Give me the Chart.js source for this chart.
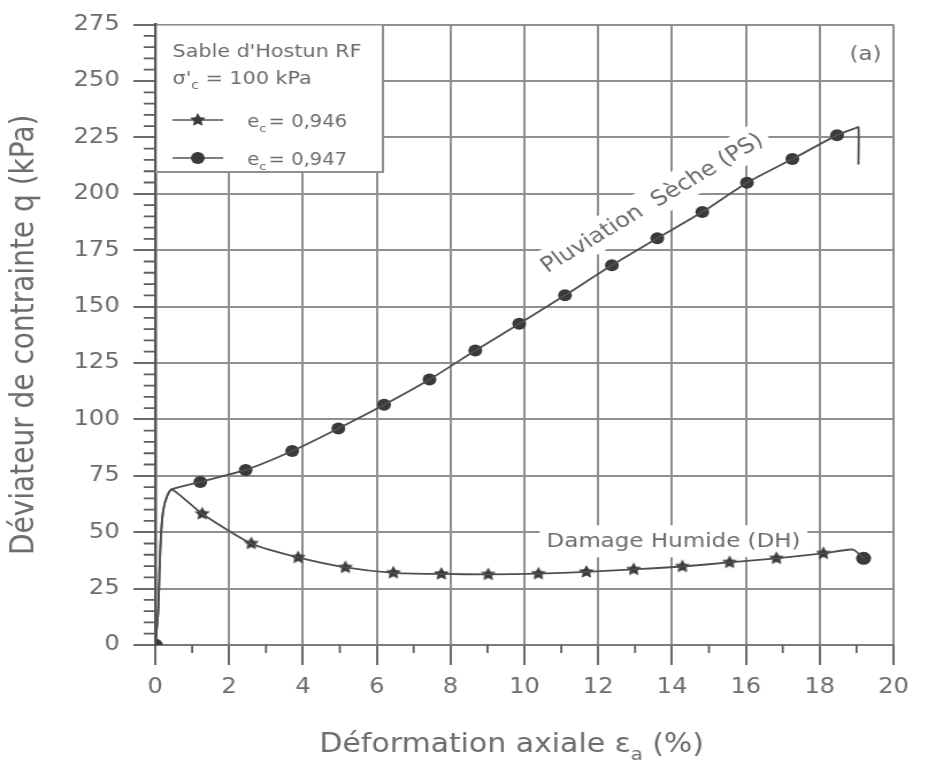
<!DOCTYPE html>
<html>
<head>
<meta charset="utf-8">
<script src="https://cdn.jsdelivr.net/npm/chart.js@4.4.1/dist/chart.umd.min.js"></script>
<style>
  html, body { margin: 0; padding: 0; background: #fff; }
  #chart { display: block; }
</style>
</head>
<body>
<!-- drawn narrow, shown wide: the figure has a stretched, wide lettering -->
<canvas id="chart" width="807" height="764" style="width: 928px; height: 764px;"></canvas>
<script>
// initial loading, common to both specimens
const riseStrain = [0, 0.08, 0.12, 0.16, 0.22, 0.32, 0.45];
const riseQ = [0, 15, 35, 50, 60, 66, 69];

// Pluviation Sèche (PS), e_c = 0,947
const psStrain = [1.22, 2.45, 3.71, 4.96, 6.2, 7.43, 8.67, 9.86, 11.1, 12.37, 13.6, 14.82, 16.03, 17.26, 18.47];
const psQ = [72.3, 77.6, 86, 96, 106.5, 117.7, 130.5, 142.4, 155, 168.3, 180.3, 191.9, 204.9, 215.4, 226];
const psEndStrain = [18.95, 19.05, 19.05];
const psEndQ = [229, 229.5, 213];

// Damage Humide (DH), e_c = 0,946
const dhStrain = [1.27, 2.6, 3.87, 5.15, 6.45, 7.75, 9.02, 10.38, 11.68, 12.96, 14.28, 15.56, 16.83, 18.1];
const dhQ = [58.2, 45, 38.8, 34.4, 32, 31.5, 31.3, 31.6, 32.4, 33.5, 34.8, 36.6, 38.4, 40.6];
const dhEndStrain = [18.9, 19.19];
const dhEndQ = [42.3, 38.4];

const sandName = "Sable d'Hostun RF";
const confining = "100 kPa";
const voidRatios = ["0,946", "0,947"];      // DH (stars), PS (dots)
const curveNames = ["Pluviation  Sèche (PS)", "Damage Humide (DH)"];
const panelTag = "(a)";
const xTitle = ["Déformation axiale ε", "a", " (%)"];
const yTitle = "Déviateur de contrainte q (kPa)";

const FONT = "'DejaVu Sans', sans-serif";
const INK = "#3a3a3a";
const TEXT = "#6c6c6c";
const GRID = "#8f8f8f";

function toPoints(xs, ys) {
  return xs.map((x, i) => ({ x: x, y: ys[i] }));
}

function starSprite(r) {
  const c = document.createElement("canvas");
  const s = Math.ceil(r * 2 + 2);
  c.width = s; c.height = s;
  const g = c.getContext("2d");
  g.translate(s / 2, s / 2);
  g.beginPath();
  for (let i = 0; i < 10; i++) {
    const rad = i % 2 ? r * 0.5 : r;
    const a = -Math.PI / 2 + i * Math.PI / 5;
    g.lineTo(rad * Math.cos(a), rad * Math.sin(a));
  }
  g.closePath();
  g.fillStyle = INK;
  g.fill();
  return c;
}
const star = starSprite(7);

const rise = toPoints(riseStrain, riseQ);
const psMarks = toPoints(psStrain, psQ);
const dhMarks = toPoints(dhStrain, dhQ);
const psEnd = toPoints(psEndStrain, psEndQ);
const dhEnd = toPoints(dhEndStrain, dhEndQ);

const curveStyle = {
  showLine: true,
  borderColor: "#4f4f4f",
  borderWidth: 1.8,
  tension: 0.2,
  pointRadius: 0
};

// text with a subscript, returns the x where it stopped
function subText(ctx, x, y, main, sub, size) {
  ctx.font = size + "px " + FONT;
  ctx.fillText(main, x, y);
  x += ctx.measureText(main).width;
  ctx.font = Math.round(size * 0.65) + "px " + FONT;
  ctx.fillText(sub, x, y + size * 0.3);
  return x + ctx.measureText(sub).width;
}

const paperDecor = {
  id: "paperDecor",
  beforeDatasetsDraw(chart) {
    const { ctx, chartArea: area, scales: { x, y } } = chart;
    ctx.save();

    // legend frame in the upper left corner
    const boxR = 333, boxB = 172;
    ctx.fillStyle = "#fff";
    ctx.fillRect(area.left + 1.5, area.top + 1, boxR - area.left - 1.5, boxB - area.top - 1);
    ctx.strokeStyle = GRID;
    ctx.lineWidth = 2;
    ctx.beginPath();
    ctx.moveTo(area.left, boxB);
    ctx.lineTo(boxR, boxB);
    ctx.lineTo(boxR, area.top);
    ctx.stroke();

    ctx.fillStyle = TEXT;
    ctx.textBaseline = "alphabetic";
    ctx.textAlign = "left";
    ctx.font = "18px " + FONT;
    ctx.fillText(sandName, 150, 57);
    let cx = subText(ctx, 150, 84, "σ'", "c", 18);
    ctx.font = "18px " + FONT;
    ctx.fillText(" = " + confining, cx, 84);

    const rows = [
      { y: 120, mark: "star", label: voidRatios[0] },
      { y: 158, mark: "dot", label: voidRatios[1] }
    ];
    rows.forEach(r => {
      ctx.strokeStyle = "#555";
      ctx.lineWidth = 1.6;
      ctx.beginPath();
      ctx.moveTo(150, r.y);
      ctx.lineTo(194, r.y);
      ctx.stroke();
      if (r.mark === "star") {
        ctx.drawImage(star, 172 - star.width / 2, r.y - star.height / 2);
      } else {
        ctx.fillStyle = INK;
        ctx.beginPath();
        ctx.arc(172, r.y, 6, 0, Math.PI * 2);
        ctx.fill();
      }
      ctx.fillStyle = TEXT;
      let tx = subText(ctx, 215, r.y + 7, "e", "c", 17);
      ctx.font = "17px " + FONT;
      ctx.fillText("= " + r.label, tx + 2, r.y + 7);
    });

    // curve names on white patches, PS one follows the slope of its curve
    const a = psMarks[8], b = psMarks[13];
    const ang = Math.atan2(y.getPixelForValue(b.y) - y.getPixelForValue(a.y),
                           x.getPixelForValue(b.x) - x.getPixelForValue(a.x));
    const labels = [
      { text: curveNames[0], at: [13.45, 196], angle: ang, size: 21 },
      { text: curveNames[1], at: [14.04, 46], angle: 0, size: 20 }
    ];
    ctx.textAlign = "center";
    ctx.textBaseline = "middle";
    labels.forEach(l => {
      ctx.font = l.size + "px " + FONT;
      const w = ctx.measureText(l.text).width;
      ctx.save();
      ctx.translate(x.getPixelForValue(l.at[0]), y.getPixelForValue(l.at[1]));
      ctx.rotate(l.angle);
      ctx.fillStyle = "#fff";
      ctx.fillRect(-w / 2 - 6, -16, w + 12, 32);
      ctx.fillStyle = TEXT;
      ctx.fillText(l.text, 0, 1);
      ctx.restore();
    });

    ctx.font = "20px " + FONT;
    ctx.fillText(panelTag, x.getPixelForValue(19.24), y.getPixelForValue(261.5));
    ctx.restore();
  },
  afterDraw(chart) {
    const { ctx, chartArea: area, scales: { x, y } } = chart;
    ctx.save();
    ctx.strokeStyle = "#5e5e5e";
    ctx.lineWidth = 1.8;
    ctx.beginPath();
    for (let v = 5; v < 275; v += 5) {
      if (v % 25 === 0) continue;
      const py = y.getPixelForValue(v);
      ctx.moveTo(area.left - 10, py);
      ctx.lineTo(area.left, py);
    }
    for (let v = 1; v < 20; v += 2) {
      const px = x.getPixelForValue(v);
      ctx.moveTo(px, area.bottom);
      ctx.lineTo(px, area.bottom + 8);
    }
    ctx.stroke();

    // x title with its subscript
    ctx.fillStyle = TEXT;
    ctx.textBaseline = "alphabetic";
    ctx.textAlign = "left";
    ctx.font = "26px " + FONT;
    const w1 = ctx.measureText(xTitle[0]).width;
    const w3 = ctx.measureText(xTitle[2]).width;
    ctx.font = "17px " + FONT;
    const w2 = ctx.measureText(xTitle[1]).width;
    let tx = (area.left + area.right) / 2 - 11 - (w1 + w2 + w3) / 2;
    tx = subText(ctx, tx, 752, xTitle[0], xTitle[1], 26);
    ctx.font = "26px " + FONT;
    ctx.fillText(xTitle[2], tx, 752);
    ctx.restore();
  }
};

new Chart(document.getElementById("chart"), {
  type: "scatter",
  data: {
    datasets: [
      Object.assign({ data: rise.concat(psMarks, psEnd) }, curveStyle),
      Object.assign({ data: rise.concat(dhMarks, dhEnd) }, curveStyle),
      { data: psMarks, pointStyle: "circle", pointRadius: 6, backgroundColor: INK, borderWidth: 0 },
      { data: dhMarks, pointStyle: star, pointRadius: 7 },
      { data: [rise[0], dhEnd[dhEnd.length - 1]], pointStyle: "circle", pointRadius: 6.5, backgroundColor: INK, borderWidth: 0 }
    ]
  },
  options: {
    responsive: false,
    animation: false,
    layout: { padding: { top: 22, right: 30, left: 0, bottom: 0 } },
    plugins: { legend: { display: false }, tooltip: { enabled: false } },
    scales: {
      x: {
        type: "linear",
        min: 0,
        max: 20,
        ticks: { stepSize: 2, color: TEXT, font: { family: FONT, size: 21 }, padding: 10, maxRotation: 0 },
        grid: { color: GRID, lineWidth: 2, tickLength: 20, tickColor: "#6a6a6a", tickWidth: 2 },
        border: { color: "#7a7a7a", width: 2 },
        afterFit(scale) { scale.height = 119; }
      },
      y: {
        min: 0,
        max: 275,
        ticks: { stepSize: 25, color: TEXT, font: { family: FONT, size: 21 }, padding: 12 },
        grid: { color: GRID, lineWidth: 2, tickLength: 19, tickColor: "#6a6a6a", tickWidth: 2 },
        border: { color: "#555", width: 2.5 },
        title: { display: true, text: yTitle, color: TEXT, font: { family: FONT, size: 28 }, padding: { top: 5, bottom: 0 } },
        afterFit(scale) { scale.width = 135; }
      }
    }
  },
  plugins: [paperDecor]
});
</script>
</body>
</html>
